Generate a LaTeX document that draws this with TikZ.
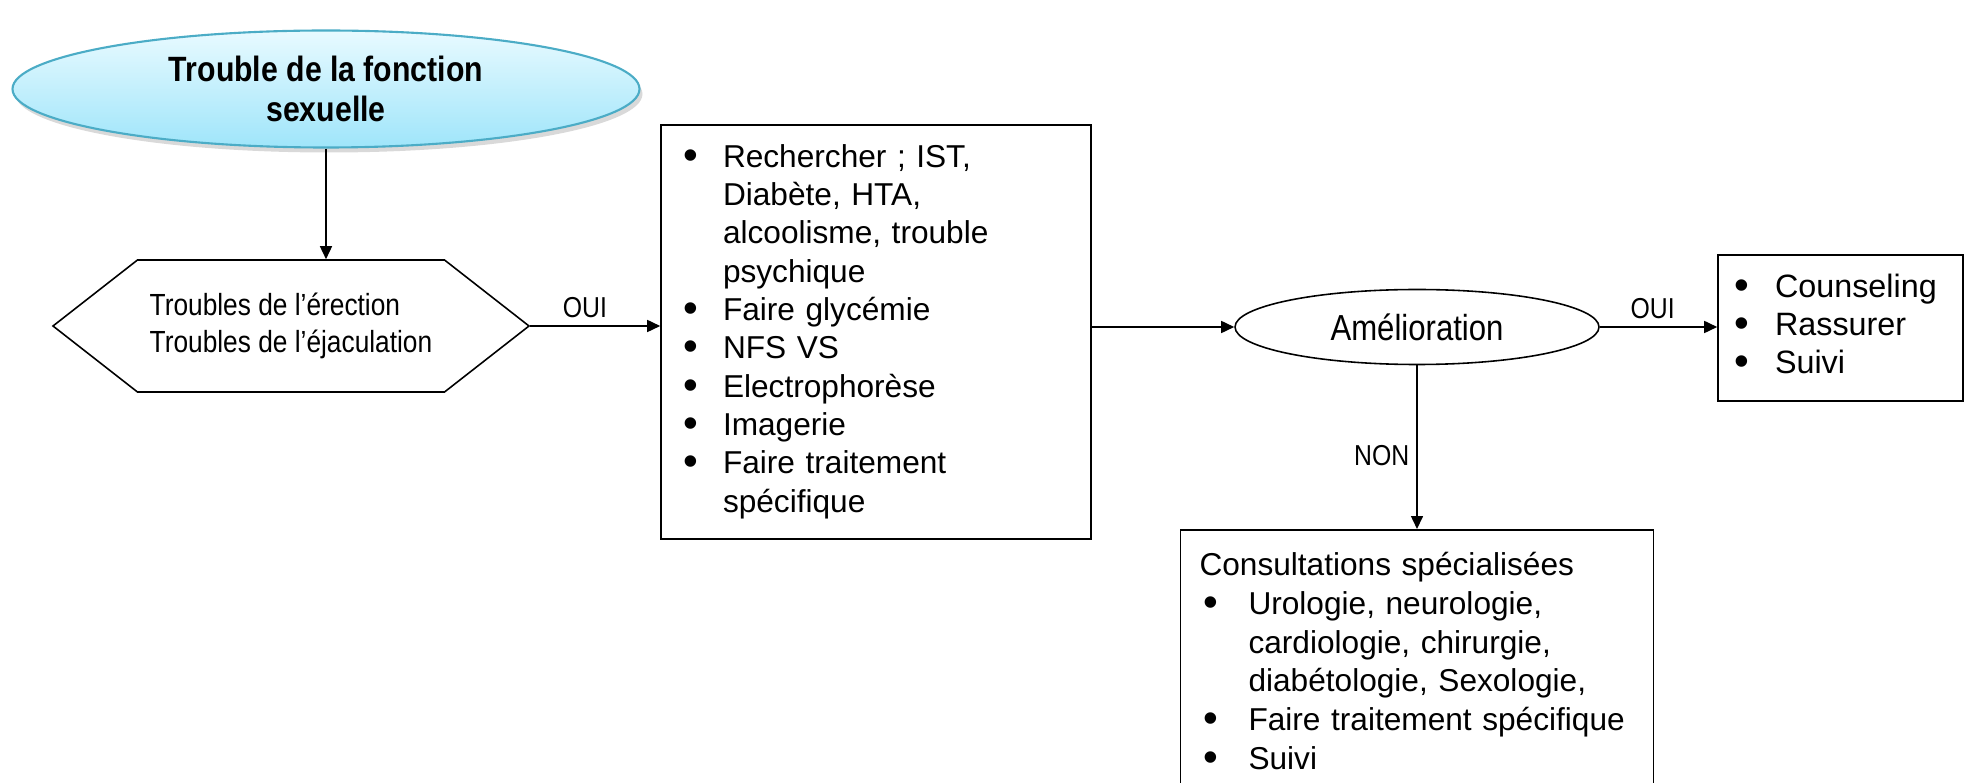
\documentclass[tikz,border=0pt]{standalone}
\usepackage{fontspec}
\setmainfont{Liberation Sans}
\newfontfamily\narrowfont[FakeStretch=0.86]{Liberation Sans}
\usetikzlibrary{shapes.geometric,shapes.symbols,arrows.meta,shadows}

\definecolor{titleborder}{HTML}{4BACC6}
\definecolor{titletop}{HTML}{E8FAFF}
\definecolor{titlebot}{HTML}{9FE5FA}

\newcommand\puce{\raisebox{-0.6pt}{\fontsize{12}{12}\selectfont\textbullet}}

\tikzset{
  box/.style={draw, rectangle, line width=0.45pt, align=left},
  arrow/.style={-{Triangle[length=1.3mm,width=1.2mm]}, line width=0.45pt},
  lbl/.style={font=\narrowfont\fontsize{8.2}{9}\selectfont, inner sep=2pt}
}

\begin{document}
\begin{tikzpicture}
  \clip (0,0) rectangle (19.66,7.82);

  % titre
  \node[ellipse, draw=titleborder, line width=0.6pt, top color=titletop, bottom color=titlebot,
        drop shadow={shadow xshift=0.03cm, shadow yshift=-0.05cm, opacity=0.3},
        minimum width=6.27cm, minimum height=1.17cm, inner sep=0pt, align=center,
        font=\narrowfont\bfseries\fontsize{10}{11.4}\selectfont] (titre) at (3.26,6.93)
        {Trouble de la fonction\\sexuelle};

  % troubles
  \node[signal, signal to=west and east, signal pointer angle=76, draw, line width=0.45pt,
        minimum width=4.76cm, minimum height=1.32cm, inner sep=0pt, align=left,
        font=\narrowfont\fontsize{8.7}{10.7}\selectfont] (troubles) at (2.91,4.56)
        {Troubles de l’érection\\Troubles de l’éjaculation};

  % bilan
  \node[box, minimum height=4.14cm, text width=3.86cm, inner xsep=0.22cm,
        font=\fontsize{9}{10.9}\selectfont] (bilan) at (8.76,4.50) {%
    \begin{tabular}{@{}p{0.40cm}@{}l@{}}
      \puce & Rechercher ; IST,\\
            & Diabète, HTA,\\
            & alcoolisme, trouble\\
            & psychique\\
      \puce & Faire glycémie\\
      \puce & NFS VS\\
      \puce & Electrophorèse\\
      \puce & Imagerie\\
      \puce & Faire traitement\\
            & spécifique
    \end{tabular}};

  % amelioration
  \node[ellipse, draw, line width=0.45pt, minimum width=3.64cm, minimum height=0.75cm,
        inner sep=0pt, font=\narrowfont\fontsize{10.3}{12}\selectfont] (amelio) at (14.17,4.55)
        {Amélioration};

  % oui
  \node[box, minimum height=1.46cm, text width=2.13cm, inner xsep=0.16cm,
        font=\fontsize{9.2}{10.8}\selectfont] (suivi) at (18.405,4.54) {%
    \begin{tabular}{@{}p{0.41cm}@{}l@{}}
      \puce & Counseling\\
      \puce & Rassurer\\
      \puce & Suivi
    \end{tabular}};

  % non
  \node[box, anchor=north, text width=4.35cm, inner xsep=0.19cm, inner ysep=0.19cm,
        font=\fontsize{9}{11}\selectfont] (consult) at (14.17,2.53) {%
    \begin{tabular}{@{}p{0.49cm}@{}l@{}}
      \multicolumn{2}{@{}l@{}}{Consultations spécialisées}\\
      \hspace{0.04cm}\puce & Urologie, neurologie,\\
                           & cardiologie, chirurgie,\\
                           & diabétologie, Sexologie,\\
      \hspace{0.04cm}\puce & Faire traitement spécifique\\
      \hspace{0.04cm}\puce & Suivi
    \end{tabular}};

  \draw[arrow] (titre.south) -- (titre.south |- troubles.north);
  \draw[arrow] (troubles.east) -- node[lbl, above, pos=0.42] {OUI} (troubles.east -| bilan.west);
  \draw[arrow] (amelio.west -| bilan.east) -- (amelio.west);
  \draw[arrow] (amelio.east) -- node[lbl, above, pos=0.45] {OUI} (amelio.east -| suivi.west);
  \draw[arrow] (amelio.south) -- node[lbl, left, pos=0.55] {NON} (amelio.south |- consult.north);
\end{tikzpicture}
\end{document}
